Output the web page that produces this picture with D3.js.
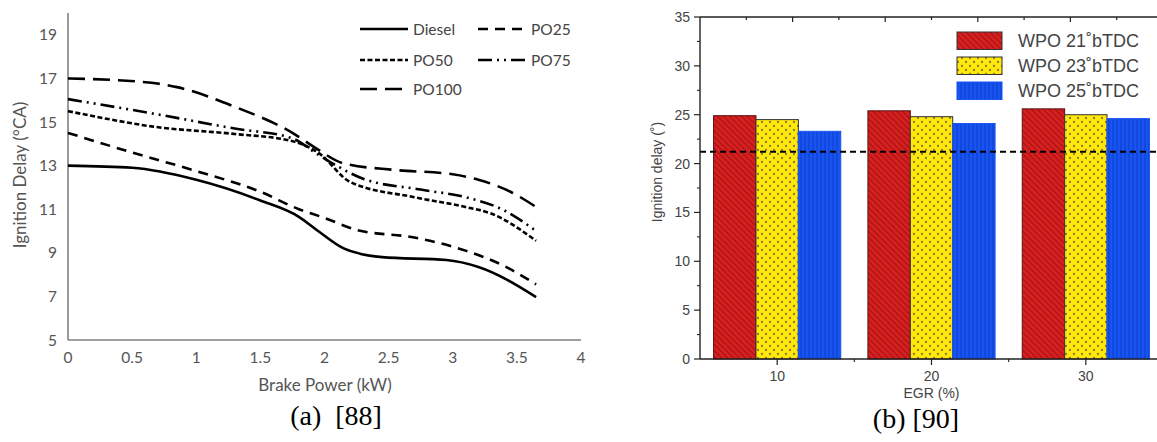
<!DOCTYPE html>
<html>
<head>
<meta charset="utf-8">
<script src="https://cdn.jsdelivr.net/npm/d3@7"></script>
<style>
  html, body { margin: 0; padding: 0; background: #fff; }
  svg { display: block; }
</style>
</head>
<body>
<svg id="chart" width="1157" height="442"></svg>
<script>
// ---------- Data: panel (a) ----------
const seriesNames = ["Diesel", "PO25", "PO50", "PO75", "PO100"];
const dieselPts = [[0,13],[0.5,12.9],[1,12.35],[1.5,11.4],[1.8,10.65],[1.95,10.0],[2.15,9.2],[2.45,8.8],[2.95,8.67],[3.2,8.35],[3.65,6.97]];
const po25Pts = [[0,14.5],[0.5,13.6],[1,12.75],[1.5,11.8],[1.8,11.0],[2.0,10.6],[2.25,10.05],[2.7,9.7],[3.1,9.1],[3.4,8.4],[3.65,7.55]];
const po50Pts = [[0,15.5],[0.3,15.15],[0.65,14.8],[1.3,14.45],[1.73,14.15],[1.95,13.6],[2.2,12.25],[2.7,11.55],[3.1,11.1],[3.3,10.8],[3.65,9.55]];
const po75Pts = [[0,16.05],[0.65,15.4],[1.3,14.7],[1.75,14.25],[1.95,13.5],[2.3,12.4],[2.75,11.9],[3.1,11.55],[3.4,10.95],[3.65,10.0]];
const po100Pts = [[0,17],[0.65,16.8],[0.85,16.6],[1.3,15.7],[1.75,14.5],[1.92,13.85],[2.15,13.1],[2.55,12.8],[3.0,12.6],[3.2,12.35],[3.45,11.8],[3.65,11.1]];
const aXTicks = [0,0.5,1,1.5,2,2.5,3,3.5,4];
const aYTicks = [5,7,9,11,13,15,17,19];

// ---------- Data: panel (b) ----------
const egrCategories = [10, 20, 30];
const wpoSeries = ["WPO 21˚bTDC", "WPO 23˚bTDC", "WPO 25˚bTDC"];
const wpo21 = [24.9, 25.4, 25.6];
const wpo23 = [24.5, 24.8, 25.0];
const wpo25 = [23.3, 24.1, 24.6];
const dieselRef = 21.2;
const bYTicks = [0,5,10,15,20,25,30,35];
const bXTicks = [10,20,30];

const svg = d3.select("#chart");

// ================= Panel (a) =================
const ax = d3.scaleLinear().domain([0,4]).range([68,581]);
const ay = d3.scaleLinear().domain([5,20]).range([340,13]);
const gA = svg.append("g");
const axisGray = "#808080";
const tickFont = "Lato, 'Open Sans', sans-serif";

gA.append("line").attr("x1",ax(0)).attr("x2",ax(0)).attr("y1",ay(5)).attr("y2",ay(20))
  .attr("stroke",axisGray).attr("stroke-width",1.6);
gA.append("line").attr("x1",ax(0)).attr("x2",ax(4)).attr("y1",ay(5)).attr("y2",ay(5))
  .attr("stroke",axisGray).attr("stroke-width",1.6);

gA.selectAll("text.yt").data(aYTicks).join("text")
  .attr("x",57).attr("y",d=>ay(d)).attr("dy","0.36em")
  .attr("text-anchor","end").attr("font-family",tickFont).attr("font-size",15.5).attr("fill","#555")
  .text(d=>d);
gA.selectAll("text.xt").data(aXTicks).join("text")
  .attr("x",d=>ax(d)).attr("y",357).attr("dy","0.36em")
  .attr("text-anchor","middle").attr("font-family",tickFont).attr("font-size",15.5).attr("fill","#555")
  .text(d=>d3.format("")(d));

gA.append("text").attr("x",325).attr("y",385).attr("dy","0.36em").attr("text-anchor","middle")
  .attr("font-family",tickFont).attr("font-size",17).attr("fill","#555").text("Brake Power (kW)");
gA.append("text").attr("transform","translate(20,175) rotate(-90)").attr("dy","0.36em")
  .attr("text-anchor","middle").attr("font-family",tickFont).attr("font-size",17).attr("fill","#555")
  .text("Ignition Delay (°CA)");

const dashes = {
  "Diesel": null,
  "PO25": "10,7",
  "PO50": "5,2.5",
  "PO75": "14,5,2,5,2,5",
  "PO100": "17,8"
};
const seriesPts = [dieselPts, po25Pts, po50Pts, po75Pts, po100Pts];
const lineGen = d3.line().x(d=>ax(d[0])).y(d=>ay(d[1])).curve(d3.curveMonotoneX);
seriesNames.forEach((name,i)=>{
  gA.append("path").attr("d",lineGen(seriesPts[i])).attr("fill","none")
    .attr("stroke","#000").attr("stroke-width",2.6)
    .attr("stroke-dasharray",dashes[name]);
});

// legend (a)
const legA = [
  {name:"Diesel", x:360, y:29},
  {name:"PO25", x:478, y:29},
  {name:"PO50", x:360, y:60},
  {name:"PO75", x:478, y:60},
  {name:"PO100", x:360, y:89}
];
legA.forEach(l=>{
  gA.append("line").attr("x1",l.x).attr("x2",l.x+48).attr("y1",l.y).attr("y2",l.y)
    .attr("stroke","#000").attr("stroke-width",2.6).attr("stroke-dasharray",dashes[l.name]);
  gA.append("text").attr("x",l.x+53).attr("y",l.y).attr("dy","0.36em")
    .attr("font-family",tickFont).attr("font-size",15.5).attr("fill","#444").text(l.name);
});

gA.append("text").attr("x",336).attr("y",425).attr("text-anchor","middle")
  .attr("font-family","'Liberation Serif', 'Times New Roman', serif").attr("font-size",28)
  .attr("fill","#000").attr("xml:space","preserve").text("(a)  [88]");

// ================= Panel (b) =================
const defs = svg.append("defs");
const pRed = defs.append("pattern").attr("id","hatchRed").attr("patternUnits","userSpaceOnUse")
  .attr("width",4.2).attr("height",4.2).attr("patternTransform","rotate(-45)");
pRed.append("rect").attr("width",4.2).attr("height",4.2).attr("fill","#d92020");
pRed.append("line").attr("x1",1).attr("x2",1).attr("y1",0).attr("y2",4.2).attr("stroke","#9a1010").attr("stroke-width",1);

const pYel = defs.append("pattern").attr("id","dotYel").attr("patternUnits","userSpaceOnUse")
  .attr("width",8).attr("height",8);
pYel.append("rect").attr("width",8).attr("height",8).attr("fill","#ffe80a");
pYel.append("circle").attr("cx",2).attr("cy",2).attr("r",1.15).attr("fill","#8a7a3a");
pYel.append("circle").attr("cx",6).attr("cy",6).attr("r",1.15).attr("fill","#8a7a3a");

const pBlu = defs.append("pattern").attr("id","vertBlue").attr("patternUnits","userSpaceOnUse")
  .attr("width",4).attr("height",4);
pBlu.append("rect").attr("width",4).attr("height",4).attr("fill","#1754f2");
pBlu.append("line").attr("x1",1).attr("x2",1).attr("y1",0).attr("y2",4).attr("stroke","#0c3bc4").attr("stroke-width",1);

const fills = ["url(#hatchRed)","url(#dotYel)","url(#vertBlue)"];
const borders = ["#5a1010","#333","#1754f2"];

const bx = d3.scaleLinear().domain([5,35]).range([700,1163]);
const by = d3.scaleLinear().domain([0,35]).range([359,17]);
const sub = d3.scaleBand().domain([0,1,2]).range([-4.12,4.12]);
const gB = svg.append("g");
const sans = "'Liberation Sans', Arial, sans-serif";

const bData = [wpo21, wpo23, wpo25];
egrCategories.forEach((c,ci)=>{
  bData.forEach((arr,si)=>{
    const x0 = bx(c + sub(si));
    const x1 = bx(c + sub(si) + sub.bandwidth());
    gB.append("rect").attr("x",x0).attr("y",by(arr[ci])).attr("width",x1-x0)
      .attr("height",by(0)-by(arr[ci])).attr("fill",fills[si])
      .attr("stroke",borders[si]).attr("stroke-width",1);
  });
});

// dashed reference line
gB.append("line").attr("x1",bx(5)).attr("x2",bx(35)).attr("y1",by(dieselRef)).attr("y2",by(dieselRef))
  .attr("stroke","#000").attr("stroke-width",2).attr("stroke-dasharray","6,4");

// frame
gB.append("line").attr("x1",bx(5)).attr("x2",bx(35)).attr("y1",by(35)).attr("y2",by(35)).attr("stroke","#222").attr("stroke-width",1.4);
gB.append("line").attr("x1",bx(5)).attr("x2",bx(35)).attr("y1",by(0)).attr("y2",by(0)).attr("stroke","#222").attr("stroke-width",1.4);
gB.append("line").attr("x1",bx(5)).attr("x2",bx(5)).attr("y1",by(0)).attr("y2",by(35)).attr("stroke","#222").attr("stroke-width",1.4);

// y ticks
const yMinor = d3.range(2.5,35,5);
gB.selectAll("line.ym").data(bYTicks).join("line").attr("x1",bx(5)-6).attr("x2",bx(5))
  .attr("y1",d=>by(d)).attr("y2",d=>by(d)).attr("stroke","#222").attr("stroke-width",1.2);
gB.selectAll("line.yn").data(yMinor).join("line").attr("x1",bx(5)-3).attr("x2",bx(5))
  .attr("y1",d=>by(d)).attr("y2",d=>by(d)).attr("stroke","#222").attr("stroke-width",1.1);
gB.selectAll("text.yl").data(bYTicks).join("text").attr("x",bx(5)-10).attr("y",d=>by(d)).attr("dy","0.36em")
  .attr("text-anchor","end").attr("font-family",sans).attr("font-size",14).attr("fill","#444").text(d=>d);

// x ticks
gB.selectAll("line.xm").data(bXTicks).join("line").attr("x1",d=>bx(d)).attr("x2",d=>bx(d))
  .attr("y1",by(0)).attr("y2",by(0)+6).attr("stroke","#222").attr("stroke-width",1.2);
gB.selectAll("line.xn").data([15,25]).join("line").attr("x1",d=>bx(d)).attr("x2",d=>bx(d))
  .attr("y1",by(0)).attr("y2",by(0)+3).attr("stroke","#222").attr("stroke-width",1.1);
gB.selectAll("text.xl").data(bXTicks).join("text").attr("x",d=>bx(d)).attr("y",376).attr("dy","0.36em")
  .attr("text-anchor","middle").attr("font-family",sans).attr("font-size",14).attr("fill","#444").text(d=>d);

// top ticks (inward)
const topTicks = d3.range(8,35,3);
gB.selectAll("line.tt").data(topTicks).join("line").attr("x1",d=>bx(d)).attr("x2",d=>bx(d))
  .attr("y1",by(35)).attr("y2",(d,i)=>by(35)+(i%2===1?5:3)).attr("stroke","#222").attr("stroke-width",1.2);

gB.append("text").attr("x",bx(20)).attr("y",393).attr("dy","0.36em").attr("text-anchor","middle")
  .attr("font-family",sans).attr("font-size",14).attr("fill","#444").text("EGR (%)");
gB.append("text").attr("transform","translate(657,172) rotate(-90)").attr("dy","0.36em")
  .attr("text-anchor","middle").attr("font-family",sans).attr("font-size",14).attr("fill","#444")
  .text("Ignition delay (˚)");

// legend (b)
wpoSeries.forEach((name,i)=>{
  const y = 32 + i*25;
  gB.append("rect").attr("x",957).attr("y",y).attr("width",45).attr("height",17.5)
    .attr("fill",fills[i]).attr("stroke",i===2?"#1754f2":"#333").attr("stroke-width",1);
  gB.append("text").attr("x",1018).attr("y",y+9).attr("dy","0.36em")
    .attr("font-family",sans).attr("font-size",18).attr("fill","#444").text(name);
});

gB.append("text").attr("x",916).attr("y",428).attr("text-anchor","middle")
  .attr("font-family","'Liberation Serif', 'Times New Roman', serif").attr("font-size",28)
  .attr("fill","#000").text("(b) [90]");
</script>
</body>
</html>
